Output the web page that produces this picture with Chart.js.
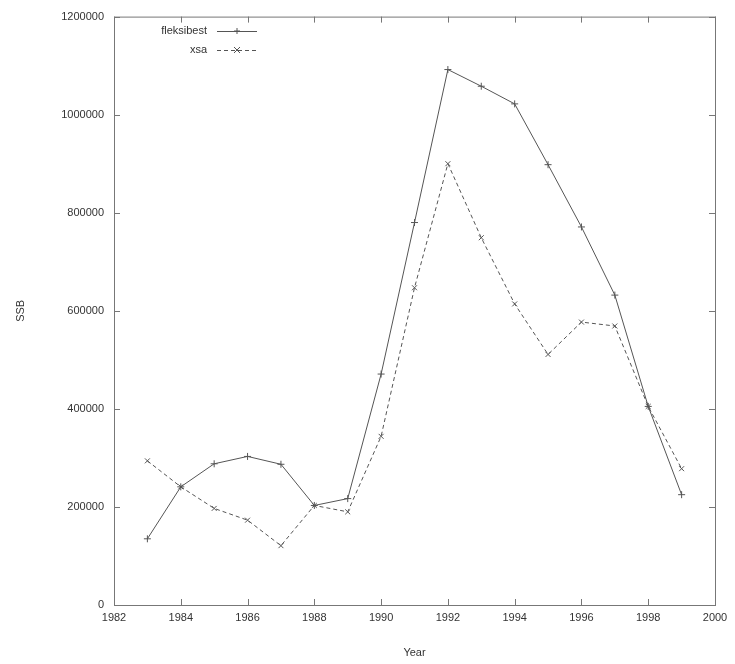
<!DOCTYPE html>
<html>
<head>
<meta charset="utf-8">
<script src="https://cdn.jsdelivr.net/npm/chart.js@4/dist/chart.umd.min.js"></script>
<style>
  body { margin: 0; background: #fff; }
  canvas { display: block; }
</style>
</head>
<body>
<canvas id="ssbChart" width="735" height="664"></canvas>
<script>
// donnees
const years = [1983, 1984, 1985, 1986, 1987, 1988, 1989, 1990, 1991, 1992, 1993, 1994, 1995, 1996, 1997, 1998, 1999];
const fleksibest = [135000, 241000, 288000, 303000, 287000, 203000, 217000, 471000, 780000, 1092000, 1058000, 1022000, 898000, 771000, 632000, 405000, 225000];
const xsa = [294000, 241000, 197000, 173000, 121000, 203000, 190000, 344000, 647000, 900000, 749000, 614000, 511000, 577000, 569000, 405000, 278000];
const seriesNames = ["fleksibest", "xsa"];

const toPoints = (vals) => years.map((y, i) => ({ x: y, y: vals[i] }));

const textColor = "#333";
const lineColor = "#555";
const frameColor = "#777";
const font = { family: "Liberation Sans, Arial, sans-serif", size: 11 };

// cadre + ticks vers l'interieur (style gnuplot) + legende
const frame = {
    id: "frame",
    afterDraw(chart) {
        const ctx = chart.ctx;
        const a = chart.chartArea;
        const xs = chart.scales.x;
        const ys = chart.scales.y;
        ctx.save();
        ctx.strokeStyle = frameColor;
        ctx.lineWidth = 1;
        ctx.strokeRect(a.left + 0.5, a.top + 0.5, a.right - a.left, a.bottom - a.top);
        ctx.beginPath();
        xs.ticks.forEach(t => {
            const px = Math.round(xs.getPixelForValue(t.value)) + 0.5;
            ctx.moveTo(px, a.bottom); ctx.lineTo(px, a.bottom - 6);
            ctx.moveTo(px, a.top); ctx.lineTo(px, a.top + 6);
        });
        ys.ticks.forEach(t => {
            const py = Math.round(ys.getPixelForValue(t.value)) + 0.5;
            ctx.moveTo(a.left, py); ctx.lineTo(a.left + 6, py);
            ctx.moveTo(a.right, py); ctx.lineTo(a.right - 6, py);
        });
        ctx.stroke();

        // legende
        ctx.font = font.size + "px " + font.family;
        ctx.fillStyle = textColor;
        ctx.textAlign = "right";
        ctx.textBaseline = "middle";
        chart.data.datasets.forEach((ds, i) => {
            const y = 31 + i * 19;
            ctx.fillText(seriesNames[i], 207, y);
            ctx.strokeStyle = lineColor;
            ctx.setLineDash(ds.borderDash || []);
            ctx.beginPath();
            ctx.moveTo(217, y + 0.5); ctx.lineTo(257, y + 0.5);
            ctx.stroke();
            ctx.setLineDash([]);
            const cx = 237;
            ctx.beginPath();
            if (i === 0) {
                ctx.moveTo(cx, y - 3); ctx.lineTo(cx, y + 3);
                ctx.moveTo(cx - 3, y); ctx.lineTo(cx + 3, y);
            } else {
                ctx.moveTo(cx - 3, y - 3); ctx.lineTo(cx + 3, y + 3);
                ctx.moveTo(cx - 3, y + 3); ctx.lineTo(cx + 3, y - 3);
            }
            ctx.stroke();
        });
        ctx.restore();
    }
};

const datas = {
    datasets: [{
        label: seriesNames[0],
        data: toPoints(fleksibest),
        borderColor: lineColor,
        borderWidth: 1,
        pointStyle: "cross",
        pointRadius: 3.5,
        pointBorderColor: lineColor,
        pointBorderWidth: 1,
        fill: false
    }, {
        label: seriesNames[1],
        data: toPoints(xsa),
        borderColor: lineColor,
        borderWidth: 1,
        borderDash: [4, 3],
        pointStyle: "crossRot",
        pointRadius: 3.5,
        pointBorderColor: lineColor,
        pointBorderWidth: 1,
        fill: false
    }]
};

const config = {
    type: "line",
    data: datas,
    options: {
        responsive: false,
        animation: false,
        layout: { padding: { top: 16, right: 20, left: 0, bottom: 0 } },
        plugins: { legend: { display: false }, tooltip: { enabled: false } },
        scales: {
            x: {
                type: "linear",
                min: 1982,
                max: 2000,
                grid: { display: false, drawTicks: false },
                border: { display: false },
                ticks: { stepSize: 2, color: textColor, font: font, padding: 6, maxRotation: 0,
                         callback: (v) => String(v) },
                title: { display: true, text: "Year", color: textColor, font: font, padding: { top: 12 } },
                afterFit: (s) => { s.height = 59; }
            },
            y: {
                min: 0,
                max: 1200000,
                grid: { display: false, drawTicks: false },
                border: { display: false },
                ticks: { stepSize: 200000, color: textColor, font: font, padding: 10,
                         callback: (v) => String(v) },
                title: { display: true, text: "SSB", color: textColor, font: font, padding: { top: 14, bottom: 0 } },
                afterFit: (s) => { s.width = 114; }
            }
        }
    },
    plugins: [frame]
};

const myChart = new Chart(document.getElementById("ssbChart"), config);
</script>
</body>
</html>
